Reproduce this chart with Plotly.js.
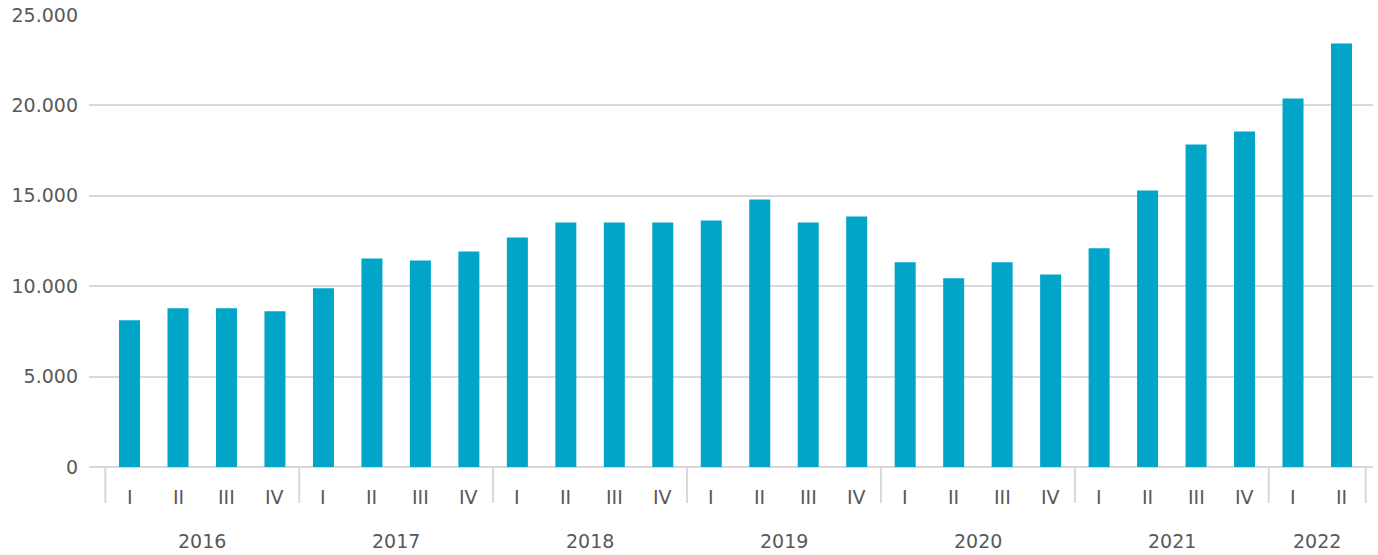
<!DOCTYPE html>
<html>
<head>
<meta charset="utf-8">
<script src="https://cdn.plot.ly/plotly-3.0.1.min.js"></script>
<style>
html,body{margin:0;padding:0;background:#fff;}
#chart{width:1378px;height:555px;}
</style>
</head>
<body>
<div id="chart"></div>
<script>
const yearLabels = ['2016','2017','2018','2019','2020','2021','2022'];
const quartersPerYear = [4,4,4,4,4,4,2];
const quarterLabels = ['I','II','III','IV'];
const values = [
  8110, 8780, 8780, 8610,
  9880, 11530, 11420, 11920,
  12690, 13520, 13520, 13520,
  13630, 14800, 13520, 13860,
  11320, 10440, 11320, 10650,
  12100, 15290, 17840, 18560,
  20380, 23430
];
const yTickVals = [0, 5000, 10000, 15000, 20000, 25000];

const xYears = [], xQuarters = [];
yearLabels.forEach((y, i) => {
  for (let q = 0; q < quartersPerYear[i]; q++) {
    xYears.push(y);
    xQuarters.push(quarterLabels[q]);
  }
});

const font = {family: 'DejaVu Sans, sans-serif', size: 19, color: '#595959'};
const lineCol = '#d9d9d9';

// category-level labels, year labels and dividers derived from the arrays
const annotations = [];
const shapes = [];
let idx = 0;
const plotH = 555 - 15 - 88;
shapes.push({type: 'line', xref: 'x', yref: 'paper', x0: -0.5, x1: -0.5, y0: 0, y1: -36 / plotH,
  line: {color: lineCol, width: 2}});
yearLabels.forEach((y, i) => {
  const n = quartersPerYear[i];
  for (let q = 0; q < n; q++) {
    annotations.push({x: idx + q, xref: 'x', y: 0, yref: 'paper', yanchor: 'middle', yshift: -30,
      text: quarterLabels[q], showarrow: false, font: font});
  }
  annotations.push({x: idx + (n - 1) / 2, xref: 'x', y: 0, yref: 'paper', yanchor: 'middle', yshift: -74,
    text: y, showarrow: false, font: font});
  idx += n;
  shapes.push({type: 'line', xref: 'x', yref: 'paper', x0: idx - 0.5, x1: idx - 0.5, y0: 0, y1: -36 / plotH,
    line: {color: lineCol, width: 2}});
});

Plotly.newPlot('chart', [{
  type: 'bar',
  x: [xYears, xQuarters],
  y: values,
  marker: {color: '#00a5c8'},
  hoverinfo: 'y'
}], {
  width: 1378, height: 555,
  margin: {l: 89, r: 5, t: 15, b: 88, pad: 0},
  paper_bgcolor: '#fff', plot_bgcolor: '#fff',
  separators: ',.',
  bargap: 0.567,
  showlegend: false,
  font: font,
  annotations: annotations,
  shapes: shapes,
  xaxis: {
    type: 'multicategory',
    range: [-0.836, 25.65],
    showgrid: false,
    showline: false,
    zeroline: false,
    ticks: '',
    showticklabels: false,
    showdividers: false
  },
  yaxis: {
    range: [0, 25000],
    tickvals: yTickVals,
    tickformat: ',d',
    showgrid: true,
    gridcolor: lineCol,
    gridwidth: 2,
    zeroline: true,
    zerolinecolor: lineCol,
    zerolinewidth: 2,
    showline: false,
    ticks: '',
    ticklabelstandoff: 10,
    tickfont: font
  }
}, {displayModeBar: false, staticPlot: true});
</script>
</body>
</html>
